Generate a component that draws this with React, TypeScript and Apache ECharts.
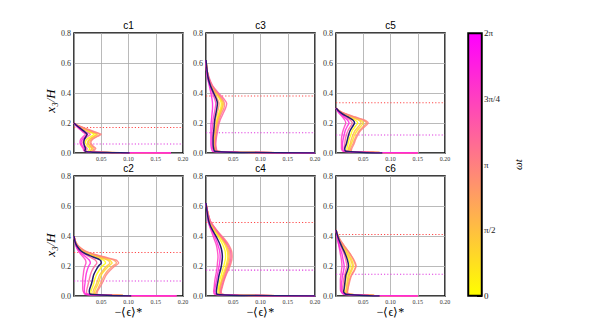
import React, { useEffect, useRef } from "react";
import * as echarts from "echarts";

// ---------- data ----------
const panelNames = ["c1", "c3", "c5", "c2", "c4", "c6"];
const phaseSteps = [0, 1, 2, 3, 4, 5, 6, 7]; // phase k * (2π/8)
const cbTickLabels = ["0", "π/2", "π", "3π/4", "2π"];
const xTickLabels = ["", "0.05", "0.10", "0.15", "0.20"];

// dotted levels per panel (same order as panelNames)
const redLevels = [0.17, 0.38, 0.335, 0.29, 0.49, 0.41];
const magLevels = [0.06, 0.135, 0.12, 0.1, 0.172, 0.145];

// c1
const ys_c1 = [0.2, 0.18, 0.16, 0.14, 0.125, 0.11, 0.09, 0.07, 0.05, 0.03, 0.015, 0.006, 0.002, 0.0];
const mean_c1 = [0.0, 0.006, 0.013, 0.02, 0.024, 0.022, 0.019, 0.018, 0.019, 0.021, 0.02, 0.03, 0.07, 0.102];
const phases_c1 = [
  [0.0, 0.007, 0.017, 0.028, 0.037, 0.031, 0.023, 0.021, 0.024, 0.029, 0.027, 0.04, 0.1, 0.175],
  [0.0, 0.008, 0.02, 0.032, 0.041, 0.036, 0.029, 0.026, 0.029, 0.034, 0.031, 0.045, 0.11, 0.17],
  [0.0, 0.008, 0.02, 0.033, 0.043, 0.037, 0.028, 0.025, 0.028, 0.033, 0.03, 0.045, 0.11, 0.175],
  [0.0, 0.009, 0.022, 0.036, 0.047, 0.041, 0.032, 0.029, 0.032, 0.037, 0.034, 0.05, 0.12, 0.175],
  [0.0, 0.01, 0.024, 0.039, 0.05, 0.043, 0.034, 0.031, 0.034, 0.04, 0.036, 0.05, 0.12, 0.178],
  [0.0, 0.006, 0.014, 0.023, 0.03, 0.025, 0.018, 0.016, 0.019, 0.024, 0.023, 0.035, 0.09, 0.178],
  [0.0, 0.004, 0.01, 0.016, 0.021, 0.017, 0.012, 0.011, 0.013, 0.017, 0.018, 0.03, 0.09, 0.178],
  [0.0, 0.005, 0.011, 0.018, 0.025, 0.021, 0.015, 0.013, 0.015, 0.019, 0.019, 0.03, 0.09, 0.178],
];

// c3
const ys_c3 = [0.62, 0.55, 0.5, 0.45, 0.4, 0.36, 0.33, 0.3, 0.26, 0.22, 0.18, 0.14, 0.1, 0.06, 0.03, 0.012, 0.004, 0.0];
const mean_c3 = [0.0, 0.002, 0.004, 0.008, 0.014, 0.019, 0.021, 0.02, 0.018, 0.016, 0.015, 0.014, 0.013, 0.013, 0.014, 0.016, 0.06, 0.2];
const phases_c3 = [
  [0.0, 0.002, 0.005, 0.01, 0.018, 0.025, 0.028, 0.027, 0.023, 0.02, 0.018, 0.016, 0.015, 0.015, 0.016, 0.018, 0.07, 0.2],
  [0.0, 0.002, 0.005, 0.011, 0.02, 0.028, 0.032, 0.03, 0.026, 0.022, 0.02, 0.018, 0.017, 0.016, 0.017, 0.02, 0.07, 0.2],
  [0.0, 0.002, 0.005, 0.01, 0.019, 0.027, 0.03, 0.029, 0.025, 0.021, 0.019, 0.017, 0.016, 0.016, 0.017, 0.02, 0.07, 0.2],
  [0.0, 0.002, 0.004, 0.009, 0.016, 0.021, 0.024, 0.023, 0.02, 0.017, 0.016, 0.015, 0.014, 0.014, 0.015, 0.017, 0.06, 0.2],
  [0.0, 0.002, 0.005, 0.011, 0.021, 0.03, 0.034, 0.033, 0.028, 0.024, 0.021, 0.019, 0.018, 0.017, 0.018, 0.02, 0.07, 0.2],
  [0.0, 0.002, 0.006, 0.012, 0.023, 0.033, 0.038, 0.036, 0.031, 0.026, 0.023, 0.021, 0.019, 0.018, 0.019, 0.021, 0.07, 0.2],
  [0.0, 0.001, 0.003, 0.007, 0.012, 0.016, 0.018, 0.017, 0.015, 0.013, 0.012, 0.011, 0.011, 0.011, 0.012, 0.014, 0.06, 0.2],
  [0.0, 0.001, 0.003, 0.006, 0.009, 0.011, 0.012, 0.012, 0.011, 0.01, 0.009, 0.009, 0.009, 0.009, 0.01, 0.012, 0.06, 0.2],
];

// c5
const ys_c5 = [0.3, 0.28, 0.26, 0.24, 0.22, 0.2, 0.18, 0.15, 0.12, 0.09, 0.06, 0.03, 0.012, 0.004, 0.0];
const mean_c5 = [0.0, 0.005, 0.012, 0.022, 0.031, 0.034, 0.031, 0.026, 0.023, 0.021, 0.019, 0.016, 0.018, 0.05, 0.085];
const phases_c5 = [
  [0.0, 0.005, 0.013, 0.024, 0.035, 0.04, 0.036, 0.03, 0.027, 0.024, 0.022, 0.02, 0.021, 0.07, 0.15],
  [0.0, 0.006, 0.016, 0.03, 0.044, 0.05, 0.046, 0.039, 0.034, 0.031, 0.028, 0.025, 0.025, 0.08, 0.15],
  [0.0, 0.006, 0.015, 0.028, 0.041, 0.046, 0.042, 0.035, 0.031, 0.028, 0.026, 0.023, 0.023, 0.07, 0.15],
  [0.0, 0.007, 0.018, 0.033, 0.049, 0.056, 0.051, 0.043, 0.038, 0.034, 0.031, 0.027, 0.027, 0.08, 0.15],
  [0.0, 0.007, 0.019, 0.035, 0.052, 0.059, 0.054, 0.045, 0.04, 0.036, 0.033, 0.029, 0.028, 0.08, 0.15],
  [0.0, 0.004, 0.01, 0.018, 0.026, 0.03, 0.027, 0.022, 0.019, 0.017, 0.016, 0.015, 0.017, 0.07, 0.15],
  [0.0, 0.003, 0.007, 0.012, 0.016, 0.018, 0.016, 0.013, 0.011, 0.01, 0.01, 0.01, 0.013, 0.06, 0.15],
  [0.0, 0.003, 0.008, 0.015, 0.021, 0.024, 0.021, 0.017, 0.015, 0.013, 0.012, 0.012, 0.015, 0.06, 0.15],
];

// c2
const ys_c2 = [0.4, 0.36, 0.33, 0.3, 0.28, 0.26, 0.24, 0.22, 0.2, 0.17, 0.14, 0.11, 0.08, 0.05, 0.03, 0.012, 0.004, 0.0];
const mean_c2 = [0.0, 0.002, 0.006, 0.013, 0.022, 0.035, 0.048, 0.05, 0.045, 0.04, 0.036, 0.034, 0.032, 0.029, 0.028, 0.03, 0.07, 0.105];
const phases_c2 = [
  [0.0, 0.002, 0.007, 0.015, 0.026, 0.04, 0.054, 0.058, 0.052, 0.046, 0.041, 0.038, 0.036, 0.033, 0.031, 0.032, 0.08, 0.185],
  [0.0, 0.003, 0.008, 0.018, 0.031, 0.048, 0.065, 0.07, 0.064, 0.056, 0.05, 0.047, 0.044, 0.04, 0.038, 0.038, 0.09, 0.185],
  [0.0, 0.003, 0.008, 0.017, 0.029, 0.045, 0.061, 0.066, 0.06, 0.053, 0.047, 0.044, 0.041, 0.037, 0.035, 0.036, 0.09, 0.185],
  [0.0, 0.003, 0.009, 0.02, 0.034, 0.053, 0.073, 0.078, 0.071, 0.062, 0.056, 0.052, 0.048, 0.044, 0.041, 0.04, 0.09, 0.185],
  [0.0, 0.003, 0.009, 0.021, 0.036, 0.056, 0.077, 0.082, 0.075, 0.066, 0.059, 0.055, 0.051, 0.046, 0.043, 0.042, 0.09, 0.188],
  [0.0, 0.002, 0.005, 0.011, 0.019, 0.029, 0.039, 0.042, 0.038, 0.033, 0.03, 0.028, 0.026, 0.024, 0.023, 0.025, 0.08, 0.188],
  [0.0, 0.002, 0.004, 0.008, 0.012, 0.017, 0.021, 0.022, 0.02, 0.018, 0.017, 0.016, 0.016, 0.016, 0.017, 0.02, 0.07, 0.188],
  [0.0, 0.002, 0.004, 0.009, 0.015, 0.022, 0.028, 0.03, 0.027, 0.024, 0.022, 0.021, 0.02, 0.019, 0.019, 0.022, 0.07, 0.188],
];

// c4
const ys_c4 = [0.62, 0.56, 0.5, 0.46, 0.42, 0.38, 0.34, 0.3, 0.26, 0.22, 0.18, 0.14, 0.1, 0.06, 0.03, 0.012, 0.004, 0.0];
const mean_c4 = [0.0, 0.002, 0.005, 0.009, 0.015, 0.021, 0.026, 0.029, 0.03, 0.029, 0.027, 0.024, 0.022, 0.02, 0.019, 0.02, 0.06, 0.2];
const phases_c4 = [
  [0.0, 0.002, 0.006, 0.011, 0.018, 0.025, 0.031, 0.035, 0.036, 0.034, 0.031, 0.028, 0.025, 0.023, 0.022, 0.023, 0.07, 0.2],
  [0.0, 0.003, 0.007, 0.013, 0.02, 0.028, 0.035, 0.039, 0.04, 0.038, 0.035, 0.031, 0.028, 0.025, 0.024, 0.025, 0.07, 0.2],
  [0.0, 0.003, 0.007, 0.013, 0.021, 0.03, 0.037, 0.041, 0.042, 0.04, 0.037, 0.033, 0.029, 0.026, 0.025, 0.026, 0.07, 0.2],
  [0.0, 0.003, 0.007, 0.014, 0.022, 0.031, 0.038, 0.043, 0.044, 0.042, 0.038, 0.034, 0.03, 0.027, 0.026, 0.027, 0.07, 0.2],
  [0.0, 0.003, 0.008, 0.015, 0.024, 0.034, 0.042, 0.047, 0.048, 0.046, 0.042, 0.037, 0.033, 0.03, 0.028, 0.029, 0.07, 0.2],
  [0.0, 0.003, 0.008, 0.015, 0.023, 0.032, 0.04, 0.045, 0.046, 0.044, 0.04, 0.036, 0.032, 0.029, 0.027, 0.028, 0.07, 0.2],
  [0.0, 0.002, 0.004, 0.007, 0.011, 0.015, 0.019, 0.021, 0.022, 0.021, 0.02, 0.018, 0.016, 0.015, 0.014, 0.016, 0.06, 0.2],
  [0.0, 0.002, 0.004, 0.008, 0.013, 0.018, 0.022, 0.025, 0.026, 0.025, 0.023, 0.021, 0.019, 0.017, 0.016, 0.018, 0.06, 0.2],
];

// c6
const ys_c6 = [0.44, 0.4, 0.36, 0.32, 0.28, 0.24, 0.2, 0.17, 0.14, 0.11, 0.08, 0.05, 0.03, 0.012, 0.004, 0.0];
const mean_c6 = [0.0, 0.003, 0.007, 0.012, 0.017, 0.021, 0.023, 0.021, 0.018, 0.017, 0.016, 0.015, 0.014, 0.018, 0.05, 0.08];
const phases_c6 = [
  [0.0, 0.003, 0.007, 0.013, 0.019, 0.024, 0.026, 0.024, 0.02, 0.018, 0.017, 0.016, 0.016, 0.02, 0.07, 0.15],
  [0.0, 0.004, 0.009, 0.016, 0.023, 0.029, 0.032, 0.029, 0.025, 0.023, 0.021, 0.02, 0.019, 0.022, 0.07, 0.15],
  [0.0, 0.003, 0.008, 0.015, 0.021, 0.027, 0.03, 0.027, 0.023, 0.021, 0.02, 0.019, 0.018, 0.021, 0.07, 0.15],
  [0.0, 0.004, 0.01, 0.018, 0.026, 0.032, 0.036, 0.033, 0.028, 0.025, 0.023, 0.022, 0.021, 0.023, 0.07, 0.15],
  [0.0, 0.004, 0.01, 0.018, 0.026, 0.033, 0.037, 0.034, 0.029, 0.026, 0.024, 0.022, 0.021, 0.023, 0.07, 0.15],
  [0.0, 0.002, 0.005, 0.01, 0.015, 0.018, 0.02, 0.018, 0.016, 0.014, 0.013, 0.012, 0.012, 0.017, 0.06, 0.15],
  [0.0, 0.002, 0.004, 0.006, 0.008, 0.01, 0.011, 0.01, 0.009, 0.008, 0.008, 0.008, 0.009, 0.014, 0.06, 0.15],
  [0.0, 0.002, 0.004, 0.007, 0.011, 0.013, 0.015, 0.014, 0.012, 0.011, 0.01, 0.01, 0.01, 0.015, 0.06, 0.15],
];

const panelYs = [ys_c1, ys_c3, ys_c5, ys_c2, ys_c4, ys_c6];
const panelMeans = [mean_c1, mean_c3, mean_c5, mean_c2, mean_c4, mean_c6];
const panelPhases = [phases_c1, phases_c3, phases_c5, phases_c2, phases_c4, phases_c6];

// ---------- layout / style ----------
const colLefts = [74, 206, 336];
const rowTops = [33, 176];
const PW = 109;
const PH = 120;
const SERIF = "serif";
const SANS = "sans-serif";

// spring_r colormap: yellow (0) -> magenta (2π)
function springR(t: number) {
  const g = Math.round(255 * (1 - t));
  const b = Math.round(255 * t);
  return `rgb(255,${g},${b})`;
}

function buildOption() {
  const grid: any[] = [];
  const xAxis: any[] = [];
  const yAxis: any[] = [];
  const series: any[] = [];
  const title: any[] = [];

  panelNames.forEach((name, i) => {
    const col = i % 3;
    const row = Math.floor(i / 3);
    grid.push({
      left: colLefts[col],
      top: rowTops[row],
      width: PW,
      height: PH,
      show: true,
      borderColor: "#000",
      borderWidth: 1.5,
      backgroundColor: "#fff",
      containLabel: false,
    });
    xAxis.push({
      type: "value",
      gridIndex: i,
      min: 0,
      max: 0.2,
      interval: 0.05,
      axisLine: { show: false },
      axisTick: { show: false },
      splitLine: { show: true, lineStyle: { color: "#a8a8a8", width: 0.8 } },
      axisLabel: {
        formatter: (v: number) => xTickLabels[Math.round(v / 0.05)] ?? "",
        fontFamily: SERIF,
        fontSize: 6,
        color: "#333",
        margin: 3,
      },
      name: row === 1 ? "−⟨ϵ⟩*" : "",
      nameLocation: "middle",
      nameGap: 9,
      nameTextStyle: {
        fontFamily: SERIF,
        fontSize: 12,
        color: "#000",
        verticalAlign: "top",
      },
    });
    yAxis.push({
      type: "value",
      gridIndex: i,
      min: 0,
      max: 0.8,
      interval: 0.2,
      axisLine: { show: false },
      axisTick: { show: false },
      splitLine: { show: true, lineStyle: { color: "#a8a8a8", width: 0.8 } },
      axisLabel: {
        formatter: (v: number) => v.toFixed(1),
        fontFamily: SERIF,
        fontSize: 8,
        color: "#333",
        margin: 3,
      },
    });
    title.push({
      text: name,
      left: colLefts[col] + PW / 2,
      top: rowTops[row] - 13,
      textAlign: "center",
      padding: 0,
      textStyle: {
        fontFamily: SANS,
        fontSize: 10,
        fontWeight: "normal",
        color: "#000",
      },
    });

    const ys = panelYs[i];
    // dotted reference lines
    series.push({
      type: "line",
      xAxisIndex: i,
      yAxisIndex: i,
      data: [
        [0, redLevels[i]],
        [0.2, redLevels[i]],
      ],
      symbol: "none",
      silent: true,
      z: 3,
      lineStyle: { color: "#ff4a4a", width: 1.2, type: [1.2, 2] },
    });
    series.push({
      type: "line",
      xAxisIndex: i,
      yAxisIndex: i,
      data: [
        [0, magLevels[i]],
        [0.2, magLevels[i]],
      ],
      symbol: "none",
      silent: true,
      z: 3,
      lineStyle: { color: "#e03ce0", width: 1.2, type: [1.2, 2] },
    });
    panelPhases[i].forEach((xs, k) => {
      series.push({
        type: "line",
        xAxisIndex: i,
        yAxisIndex: i,
        data: ys.map((y, j) => [xs[j], y]),
        symbol: "none",
        smooth: 0.25,
        silent: true,
        z: 4,
        lineStyle: { color: springR(phaseSteps[k] / 8), width: 1.4, opacity: 0.85 },
      });
    });
    series.push({
      type: "line",
      xAxisIndex: i,
      yAxisIndex: i,
      data: ys.map((y, j) => [panelMeans[i][j], y]),
      symbol: "none",
      smooth: 0.25,
      silent: true,
      z: 5,
      lineStyle: { color: "#251b70", width: 1.5 },
    });
  });

  // colorbar
  const cbIndex = panelNames.length;
  grid.push({
    left: 468,
    top: 33,
    width: 14,
    height: 263,
    show: true,
    borderColor: "#000",
    borderWidth: 1.5,
  });
  xAxis.push({
    type: "category",
    gridIndex: cbIndex,
    data: ["ωt"],
    show: false,
  });
  yAxis.push({
    type: "value",
    gridIndex: cbIndex,
    position: "right",
    min: 0,
    max: 4,
    interval: 1,
    axisLine: { show: false },
    splitLine: { show: false },
    axisTick: { show: true, inside: true, length: 5, lineStyle: { color: "#000", width: 1 } },
    axisLabel: {
      formatter: (v: number) => cbTickLabels[Math.round(v)] ?? "",
      fontFamily: SERIF,
      fontSize: 9,
      color: "#222",
      margin: 2,
    },
    name: "ωt",
    nameLocation: "middle",
    nameGap: 30,
    nameRotate: 90,
    nameTextStyle: { fontFamily: SERIF, fontStyle: "italic", fontSize: 11, color: "#000" },
  });
  series.push({
    type: "bar",
    xAxisIndex: cbIndex,
    yAxisIndex: cbIndex,
    data: [4],
    barWidth: "100%",
    silent: true,
    z: 1,
    itemStyle: {
      borderColor: "#000",
      borderWidth: 1.2,
      color: new echarts.graphic.LinearGradient(0, 1, 0, 0, [
        { offset: 0, color: springR(0) },
        { offset: 1, color: springR(1) },
      ]),
    },
  });

  const yLabelStyle = {
    text: "x₃/H",
    font: "italic 13px serif",
    fill: "#000",
    textAlign: "center",
    textVerticalAlign: "middle",
    align: "center",
    verticalAlign: "middle",
  };

  return {
    animation: false,
    backgroundColor: "#fff",
    title,
    grid,
    xAxis,
    yAxis,
    series,
    graphic: [
      { type: "text", x: 50, y: 101, rotation: Math.PI / 2, style: { ...yLabelStyle } },
      { type: "text", x: 50, y: 245, rotation: Math.PI / 2, style: { ...yLabelStyle } },
    ],
  };
}

export default function App() {
  const ref = useRef<HTMLDivElement>(null);
  useEffect(() => {
    if (!ref.current) return;
    const chart = echarts.init(ref.current, null, { renderer: "svg" });
    chart.setOption(buildOption() as any);
    return () => chart.dispose();
  }, []);
  return (
    <div
      ref={ref}
      style={{ position: "absolute", left: 0, top: 0, width: 598, height: 334, background: "#fff" }}
    />
  );
}
